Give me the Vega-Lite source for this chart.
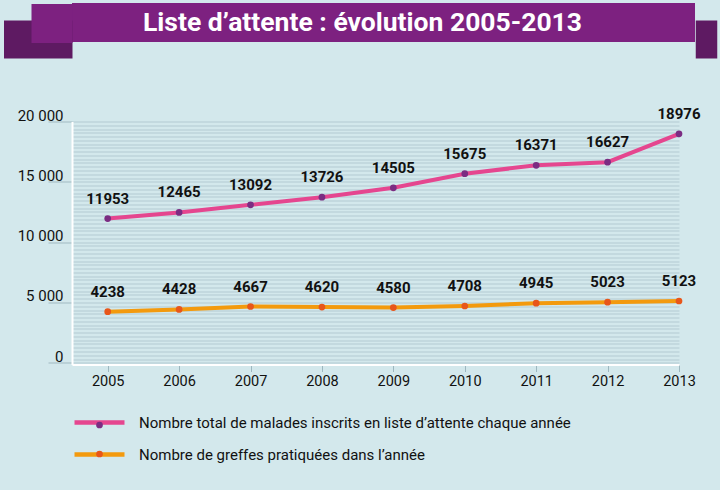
{
  "$schema": "https://vega.github.io/schema/vega-lite/v6.json",
  "background": "#D3E8EC",
  "padding": {"left": -16, "top": 3, "right": 4, "bottom": 30},
  "columns": 1,
  "spacing": 37.5,
  "config": {"view": {"stroke": null}, "font": "Roboto"},
  "concat": [
    {
      "width": 623,
      "height": 39,
      "view": {"fill": "#7D2180", "stroke": null},
      "data": {"values": [{"t": "Liste d’attente : évolution 2005-2013"}]},
      "mark": {"type": "text", "color": "white", "fontSize": 26.5, "fontWeight": "bold", "font": "Roboto", "baseline": "middle", "align": "center"},
      "encoding": {
        "text": {"field": "t", "type": "nominal"},
        "x": {"datum": 290.5, "type": "quantitative", "scale": {"domain": [0, 623], "nice": false, "zero": false},
          "axis": {"values": [623], "offset": 16, "title": null, "labels": false, "domain": false, "grid": false, "tickSize": -38, "tickWidth": 21.5, "tickOffset": 10.75, "tickColor": "#5E1A62", "tickCap": "butt", "tickOpacity": 1}},
        "y": {"datum": 0.5, "type": "quantitative", "scale": {"domain": [0, 1], "nice": false, "zero": false},
          "axis": {"values": [0.0769, 0.5], "title": null, "labels": false, "domain": false, "grid": false,
            "tickSize": {"condition": {"test": "datum.value < 0.2", "value": 68.5}, "value": 41},
            "tickWidth": {"condition": {"test": "datum.value < 0.2", "value": 38}, "value": 39},
            "tickColor": {"condition": {"test": "datum.value < 0.2", "value": "#5E1A62"}, "value": "#7D2180"},
            "tickCap": "butt", "tickOpacity": 1}}
      }
    },
    {
      "width": 607,
      "height": 243,
      "data": {"values": [
        {"year": 2005, "series": "Nombre total de malades inscrits en liste d’attente chaque année", "value": 11953},
        {"year": 2006, "series": "Nombre total de malades inscrits en liste d’attente chaque année", "value": 12465},
        {"year": 2007, "series": "Nombre total de malades inscrits en liste d’attente chaque année", "value": 13092},
        {"year": 2008, "series": "Nombre total de malades inscrits en liste d’attente chaque année", "value": 13726},
        {"year": 2009, "series": "Nombre total de malades inscrits en liste d’attente chaque année", "value": 14505},
        {"year": 2010, "series": "Nombre total de malades inscrits en liste d’attente chaque année", "value": 15675},
        {"year": 2011, "series": "Nombre total de malades inscrits en liste d’attente chaque année", "value": 16371},
        {"year": 2012, "series": "Nombre total de malades inscrits en liste d’attente chaque année", "value": 16627},
        {"year": 2013, "series": "Nombre total de malades inscrits en liste d’attente chaque année", "value": 18976},
        {"year": 2005, "series": "Nombre de greffes pratiquées dans l’année", "value": 4238},
        {"year": 2006, "series": "Nombre de greffes pratiquées dans l’année", "value": 4428},
        {"year": 2007, "series": "Nombre de greffes pratiquées dans l’année", "value": 4667},
        {"year": 2008, "series": "Nombre de greffes pratiquées dans l’année", "value": 4620},
        {"year": 2009, "series": "Nombre de greffes pratiquées dans l’année", "value": 4580},
        {"year": 2010, "series": "Nombre de greffes pratiquées dans l’année", "value": 4708},
        {"year": 2011, "series": "Nombre de greffes pratiquées dans l’année", "value": 4945},
        {"year": 2012, "series": "Nombre de greffes pratiquées dans l’année", "value": 5023},
        {"year": 2013, "series": "Nombre de greffes pratiquées dans l’année", "value": 5123}
      ]},
      "encoding": {
        "x": {
          "field": "year", "type": "quantitative",
          "scale": {"domain": [2004.5, 2013], "nice": false, "zero": false},
          "axis": {
            "values": [2005, 2006, 2007, 2008, 2009, 2010, 2011, 2012, 2013],
            "format": "d", "title": null, "grid": false,
            "domainColor": "white", "domainWidth": 2,
            "tickColor": "#9db7bf", "tickSize": 7,
            "labelFontSize": 14.5, "labelColor": "#111111", "labelPadding": 3, "labelFlush": false
          }
        },
        "y": {
          "field": "value", "type": "quantitative",
          "scale": {"domain": [-140, 20000], "nice": false, "zero": false},
          "axis": {
            "values": [0,312.5,625,937.5,1250,1562.5,1875,2187.5,2500,2812.5,3125,3437.5,3750,4062.5,4375,4687.5,5000,5312.5,5625,5937.5,6250,6562.5,6875,7187.5,7500,7812.5,8125,8437.5,8750,9062.5,9375,9687.5,10000,10312.5,10625,10937.5,11250,11562.5,11875,12187.5,12500,12812.5,13125,13437.5,13750,14062.5,14375,14687.5,15000,15312.5,15625,15937.5,16250,16562.5,16875,17187.5,17500,17812.5,18125,18437.5,18750,19062.5,19375,19687.5,20000],
            "title": null, "grid": true, "gridColor": "#b3cad2", "gridWidth": 1.2,
            "domainColor": "white", "domainWidth": 2,
            "tickColor": "#a0b9c1", "tickSize": 24,
            "tickOpacity": {"condition": {"test": "datum.value % 5000 === 0", "value": 1}, "value": 0},
            "labelExpr": "datum.value % 5000 === 0 ? replace(format(datum.value, ','), ',', ' ') : ''",
            "labelPadding": -15, "labelBaseline": "alphabetic", "labelOffset": -1.5,
            "labelFontSize": 15, "labelColor": "#111111", "labelOverlap": false, "labelFlush": false, "labelBound": false
          }
        }
      },
      "layer": [
        {
          "mark": {"type": "line", "strokeWidth": 4},
          "encoding": {
            "stroke": {
              "field": "series", "type": "nominal",
              "scale": {"domain": ["Nombre total de malades inscrits en liste d’attente chaque année", "Nombre de greffes pratiquées dans l’année"], "range": ["#E5468F", "#F39A0E"]},
              "legend": {"orient": "none", "legendX": 0, "legendY": 412, "title": null, "symbolType": "M-5,0L5,0", "symbolSize": 100, "symbolStrokeWidth": 4.5, "symbolOffset": 20, "labelFontSize": 15, "labelColor": "#111111", "labelOffset": 32, "rowPadding": 13, "zindex": 1, "labelLimit": 700}
            }
          }
        },
        {
          "mark": {"type": "point", "filled": true, "size": 45, "opacity": 1},
          "encoding": {
            "fill": {
              "field": "series", "type": "nominal",
              "scale": {"domain": ["Nombre de greffes pratiquées dans l’année", "Nombre total de malades inscrits en liste d’attente chaque année"], "range": ["#E8561A", "#7B2C82"]},
              "legend": {"orient": "none", "legendX": 0, "legendY": 414.5, "title": null, "values": ["Nombre total de malades inscrits en liste d’attente chaque année", "Nombre de greffes pratiquées dans l’année"], "symbolType": "circle", "symbolSize": 45, "symbolStrokeWidth": 0, "symbolOffset": 20, "labelExpr": "''", "labelColor": "transparent", "labelFontSize": 15, "rowPadding": 13, "zindex": 2, "labelLimit": 700}
            }
          }
        },
        {
          "mark": {"type": "text", "dy": -20, "fontSize": 15, "fontWeight": "bold", "color": "#111111", "baseline": "middle"},
          "encoding": {"text": {"field": "value", "type": "quantitative", "format": "d"}}
        }
      ]
    }
  ]
}
